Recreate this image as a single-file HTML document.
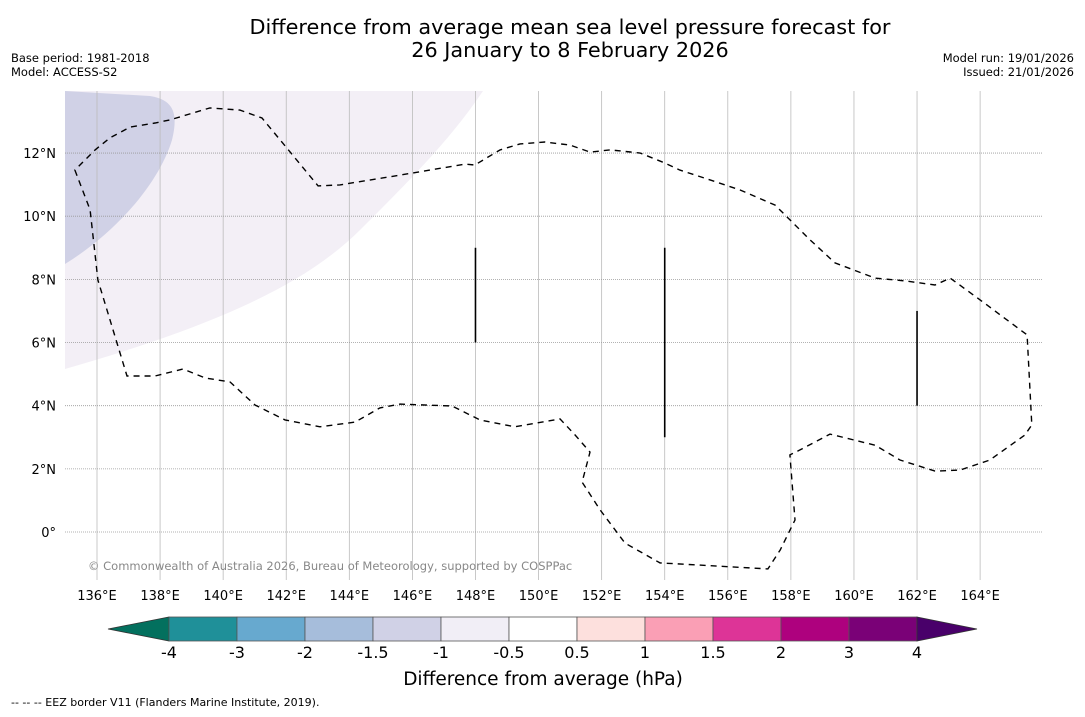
<!DOCTYPE html>
<html><head><meta charset="utf-8"><style>
body{margin:0;background:#fff;width:1085px;height:713px;overflow:hidden;font-family:"DejaVu Sans","Liberation Sans",sans-serif;}
svg text{font-family:"DejaVu Sans","Liberation Sans",sans-serif;}
</style></head><body>
<svg id="c" width="1085" height="713">
<text x="570" y="34" font-size="20.8" text-anchor="middle">Difference from average mean sea level pressure forecast for</text>
<text x="570" y="57" font-size="20.8" text-anchor="middle">26 January to 8 February 2026</text>
<text x="11" y="62" font-size="11.5">Base period: 1981-2018</text>
<text x="11" y="76" font-size="11.5">Model: ACCESS-S2</text>
<text x="1074" y="62" font-size="11.5" text-anchor="end">Model run: 19/01/2026</text>
<text x="1074" y="76" font-size="11.5" text-anchor="end">Issued: 21/01/2026</text>
<g id="map">
<path d="M65,369 C200,330 300,290 360,230 C410,180 450,140 483,91 L65,91 Z" fill="#f3eff6"/>
<path d="M65,264 C120,230 160,180 172,140 C178,115 175,100 150,96 L65,91 Z" fill="#d0d1e6"/>
<g id="grid"></g>
<path id="eez" fill="none" stroke="#000" stroke-width="1.4" stroke-dasharray="6,5"/>
<g id="segs"></g>
</g>
<text x="88" y="570" font-size="11.5" fill="#888">© Commonwealth of Australia 2026, Bureau of Meteorology, supported by COSPPac</text>
<g id="cbar"></g>
<text x="543" y="685" font-size="18.5" text-anchor="middle">Difference from average (hPa)</text>
<text x="11" y="706" font-size="11">--  --  -- EEZ border V11 (Flanders Marine Institute, 2019).</text>
</svg>
<script>
const lonTicks=[136,138,140,142,144,146,148,150,152,154,156,158,160,162,164];
const latTicks=[0,2,4,6,8,10,12];
const eezLon=[135.30,135.78,136.03,136.95,137.84,138.73,139.42,140.22,141.01,141.96,143.07,144.18,144.97,145.61,147.26,148.14,149.25,150.68,151.16,151.63,151.38,151.95,152.74,153.85,157.27,157.66,158.13,157.97,158.29,159.24,160.67,161.46,162.57,163.36,164.31,165.42,165.64,165.49,164.00,163.05,162.57,161.62,160.67,159.40,158.61,157.50,156.39,155.44,154.48,154.01,153.22,152.27,151.63,151.00,150.20,149.41,148.78,147.98,147.67,145.61,143.70,143.01,141.23,140.53,139.58,138.31,137.84,137.05,136.41,135.94];
const eezLat=[11.46,10.20,7.98,4.94,4.94,5.16,4.88,4.75,4.02,3.55,3.33,3.48,3.93,4.05,3.99,3.55,3.33,3.58,3.07,2.53,1.58,0.70,-0.35,-0.98,-1.17,-0.57,0.38,2.44,2.60,3.10,2.75,2.28,1.93,1.96,2.28,3.07,3.39,6.24,7.35,8.04,7.82,7.95,8.04,8.52,9.25,10.35,10.83,11.15,11.46,11.68,12.00,12.10,12.03,12.25,12.35,12.29,12.10,11.62,11.65,11.30,10.99,10.96,13.11,13.36,13.43,13.05,12.95,12.82,12.48,12.10];
const segLon=[148,154,162];
const segLat1=[9,9,7];
const segLat2=[6,3,4];
const cbLabels=["-4","-3","-2","-1.5","-1","-0.5","0.5","1","1.5","2","3","4"];
const cbColors=["#1f9099","#67a9cf","#a6bddb","#d0d1e6","#f1eef6","#ffffff","#fde0dd","#fa9fb5","#dd3497","#ae017e","#7a0177"];
const X=lon=>97+(lon-136)*31.54, Y=lat=>532-lat*31.58;
const NS="http://www.w3.org/2000/svg";
function mk(t,a,p){const e=document.createElementNS(NS,t);for(const k in a)e.setAttribute(k,a[k]);p.appendChild(e);return e;}
const g=document.getElementById('grid');
lonTicks.forEach(l=>{
 const ln=mk('line',{x1:X(l),x2:X(l),y1:91,y2:580,stroke:'#bbb','stroke-width':0.8},g);
 
 
 const t=mk('text',{x:X(l),y:600,'font-size':13,'text-anchor':'middle'},document.getElementById('c'));
 t.textContent=l+'°E';
 
 
});
latTicks.forEach(l=>{
 const ln=mk('line',{x1:65,x2:1042,y1:Y(l),y2:Y(l),stroke:'#999','stroke-width':0.8,'stroke-dasharray':'1,1'},g);
 
 
 const t=mk('text',{x:56,y:Y(l)+5,'font-size':13,'text-anchor':'end'},document.getElementById('c'));
 t.textContent=l===0?'0°':l+'°N';
 
 
});
let d='';eezLon.forEach((l,i)=>{d+=(i?'L':'M')+X(l).toFixed(1)+','+Y(eezLat[i]).toFixed(1);});d+='Z';
document.getElementById('eez').setAttribute('d',d);
const sg=document.getElementById('segs');
segLon.forEach((l,i)=>{
 const s=mk('line',{x1:X(l),x2:X(l),y1:Y(segLat1[i]),y2:Y(segLat2[i]),stroke:'#000','stroke-width':1.6},sg);
 
 
});
const cb=document.getElementById('cbar');
const x0=169,w=68,y0=617,h=24;
const lt=mk('polygon',{points:`108,629 ${x0},${y0} ${x0},${y0+h}`,fill:'#03705e',stroke:'#333','stroke-width':0.8},cb);


cbColors.forEach((c,i)=>{
 const r=mk('rect',{x:x0+i*w,y:y0,width:w,height:h,fill:c,stroke:'#555','stroke-width':0.8},cb);
 
 
});
const xe=x0+cbColors.length*w;
const rt=mk('polygon',{points:`${xe},${y0} 977,629 ${xe},${y0+h}`,fill:'#49006a',stroke:'#333','stroke-width':0.8},cb);


cbLabels.forEach((s,i)=>{
 const t=mk('text',{x:x0+i*w,y:658,'font-size':16,'text-anchor':'middle'},cb);
 t.textContent=s;
 
 
});
</script>
</body></html>
